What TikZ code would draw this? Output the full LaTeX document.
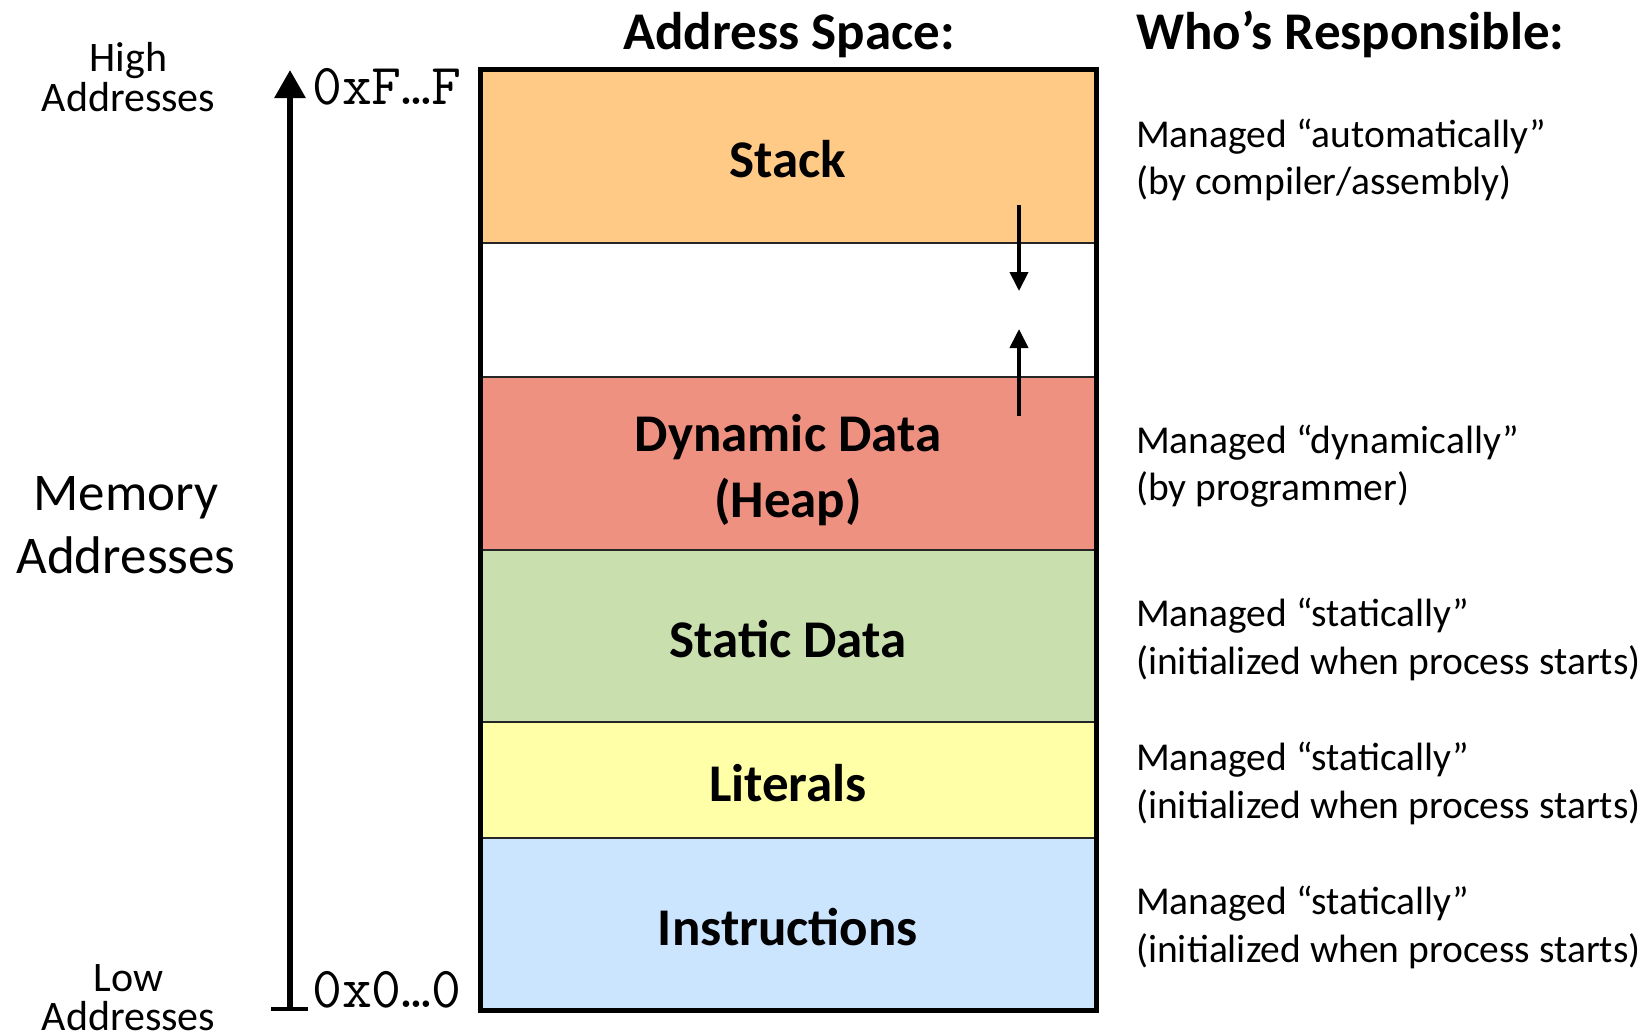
\documentclass[tikz,border=0pt]{standalone}
\usepackage{fontspec}
\setmainfont{Carlito}
\usetikzlibrary{arrows.meta}
\definecolor{stackc}{HTML}{FFC986}
\definecolor{heapc}{HTML}{EE9181}
\definecolor{staticc}{HTML}{C9DFAE}
\definecolor{litc}{HTML}{FFFFA8}
\definecolor{instrc}{HTML}{CCE5FF}
\begin{document}
\begin{tikzpicture}[x=1pt,y=-1pt,
  band/.style={draw=black!85, line width=1.5pt, outer sep=0pt, inner sep=0pt,
    minimum width=616pt},
  bandlab/.style={inner sep=0pt, align=center, font=\fontsize{53}{66}\selectfont\bfseries},
  title/.style={anchor=base, inner sep=0pt, font=\fontsize{53}{64}\selectfont\bfseries},
  rtext/.style={anchor=base west, inner sep=0pt, font=\fontsize{39.5}{47.5}\selectfont},
  smalllab/.style={anchor=base, inner sep=0pt, font=\fontsize{42}{50}\selectfont},
  biglab/.style={anchor=base, inner sep=0pt, font=\fontsize{53}{64}\selectfont},
  addr/.style={anchor=base west, inner sep=0pt, font=\fontsize{58}{60}\ttfamily},
  growarrow/.style={line width=4pt, -{Triangle[width=18pt,length=19pt]}},
  axisarrow/.style={line width=6pt, -{Triangle[width=30pt,length=28pt]}}]
\useasboundingbox (0,0) rectangle (1649,1034);

% bands
\node[band, fill=stackc,  minimum height=174pt] (stack) at (788,156) {};
\node[band, fill=white,   minimum height=134pt] (gap) at (788,310) {};
\node[band, fill=heapc,   minimum height=173pt] (heap) at (788,463.5) {};
\node[band, fill=staticc, minimum height=172pt] (static) at (788,636) {};
\node[band, fill=litc,    minimum height=116pt] (lit) at (788,780) {};
\node[band, fill=instrc,  minimum height=172pt] (instr) at (788,924) {};
\draw[line width=5pt] (stack.north west) rectangle (instr.south east);

\node[bandlab] (stacklab) at ([yshift=-3.5pt]stack.center) {Stack};
\node[bandlab] (heaplab) at ([yshift=-7pt]heap.center) {Dynamic Data\\(Heap)};
\node[bandlab] (staticlab) at ([yshift=-3.5pt]static.center) {Static Data};
\node[bandlab] (litlab) at ([yshift=-3.5pt]lit.center) {Literals};
\node[bandlab] (instrlab) at ([yshift=-3.5pt]instr.center) {Instructions};

% growth arrows
\coordinate (d1) at (1019,205);
\coordinate (d2) at (1019,291);
\coordinate (u1) at (1019,416);
\coordinate (u2) at (1019,329);
\draw[growarrow] (d1) -- (d2);
\draw[growarrow] (u1) -- (u2);

% titles
\node[title] (t1) at (789,49) {Address Space:};
\node[title, anchor=base west] (t2) at (1136,49) {Who’s Responsible:};

% axis
\coordinate (axtop) at (290,70);
\coordinate (axbot) at (290,1011);
\coordinate (barL) at (271,1009);
\coordinate (barR) at (308,1009);
\draw[axisarrow] (axbot) -- (axtop);
\draw[line width=4.5pt] (barL) -- (barR);

\node[addr] (hi) at (312,104) {0xF…F};
\node[addr] (lo) at (312,1007) {0x0…0};

% left labels
\node[smalllab] (h1) at (128.5,71.7) {High};
\node[smalllab] (h2) at (128.5,111) {Addresses};
\node[biglab] (m1) at (126,510) {Memory};
\node[biglab] (m2) at (126,573) {Addresses};
\node[smalllab] (l1) at (128.5,991.7) {Low};
\node[smalllab] (l2) at (128.5,1030) {Addresses};

% right column
\node[rtext] (r1a) at (1136,147) {Managed “automatically”};
\node[rtext] (r1b) at (1136,194) {(by compiler/assembly)};
\node[rtext] (r2a) at (1136,453) {Managed “dynamically”};
\node[rtext] (r2b) at (1136,500) {(by programmer)};
\node[rtext] (r3a) at (1136,626) {Managed “statically”};
\node[rtext] (r3b) at (1136,674) {(initialized when process starts)};
\node[rtext] (r4a) at (1136,770) {Managed “statically”};
\node[rtext] (r4b) at (1136,818) {(initialized when process starts)};
\node[rtext] (r5a) at (1136,914) {Managed “statically”};
\node[rtext] (r5b) at (1136,962) {(initialized when process starts)};
\end{tikzpicture}
\end{document}
